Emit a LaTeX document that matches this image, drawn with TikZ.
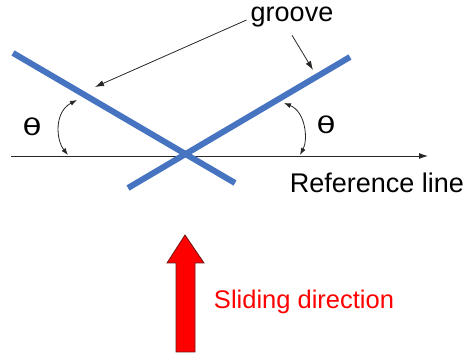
\documentclass[tikz,border=0pt]{standalone}
\usepackage{fontspec}
\setmainfont{Liberation Sans}
\newfontfamily\thetafont{DejaVu Sans}
\usepackage{xcolor}
\usetikzlibrary{arrows.meta,positioning,calc}

\definecolor{groovecol}{RGB}{70,116,193}
\definecolor{slidered}{RGB}{255,0,0}
\definecolor{slideedge}{RGB}{110,20,20}

\begin{document}
\begin{tikzpicture}[
  x=1pt, y=-1pt,
  groovebar/.style={line width=6pt, draw=groovecol},
  refline/.style={draw=black!85, line width=0.9pt, -{Latex[length=9pt,width=6pt]}},
  pointer/.style={draw=black!85, line width=0.8pt, -{Latex[length=9pt,width=6pt]}},
  anglearrow/.style={draw=black!85, line width=0.8pt, {Latex[length=7pt,width=5pt]}-{Latex[length=7pt,width=5pt]}},
  txt/.style={font=\fontsize{27}{29}\selectfont, inner sep=0pt},
  angletxt/.style={font=\thetafont\fontsize{23}{25}\selectfont, inner sep=0pt}
]
  \useasboundingbox (0,0) rectangle (469,355);

  % Reference line
  \coordinate (refstart) at (11,156);
  \coordinate (refend) at (428,156);
  \draw[refline] (refstart) -- (refend);
  \node[txt] (reflabel) at (377,183) {Reference line};

  % Grooves
  \coordinate (gAstart) at (13,53);
  \coordinate (gAend) at (235,183);
  \coordinate (gBstart) at (128,188);
  \coordinate (gBend) at (350,57);
  \draw[groovebar] (gAstart) -- (gAend);
  \draw[groovebar] (gBstart) -- (gBend);

  % Labels and pointers
  \node[txt] (groove) at (292,17) {groove};
  \coordinate (gAmark) at (95,87);
  \coordinate (gBmark) at (313,70);
  \draw[pointer] (groove.west) ++(-4,3) -- (gAmark);
  \draw[pointer] ($(groove.south)+(0,8)$) -- (gBmark);

  % Angles
  \coordinate (angAtop) at (77,100);
  \coordinate (angAbot) at (68,155);
  \coordinate (angBtop) at (284,103);
  \coordinate (angBbot) at (300,155);
  \draw[anglearrow] (angAtop) .. controls (54,112) and (56,140) .. (angAbot);
  \draw[anglearrow] (angBtop) .. controls (306,112) and (308,140) .. (angBbot);
  \node[angletxt] (thetaA) at (32,127) {\scalebox{1.35}[1]{θ}};
  \node[angletxt] (thetaB) at (326,125) {\scalebox{1.35}[1]{θ}};

  % Sliding direction
  \draw[fill=slidered, draw=slideedge, line width=0.8pt]
    (176,352) -- (176,263) -- (167,263) -- (185,235) -- (204,263) -- (195,263) -- (195,352) -- cycle;
  \node[txt, text=slidered, font=\fontsize{25.5}{28}\selectfont] (slide) at (304,302) {Sliding direction};
\end{tikzpicture}
\end{document}
